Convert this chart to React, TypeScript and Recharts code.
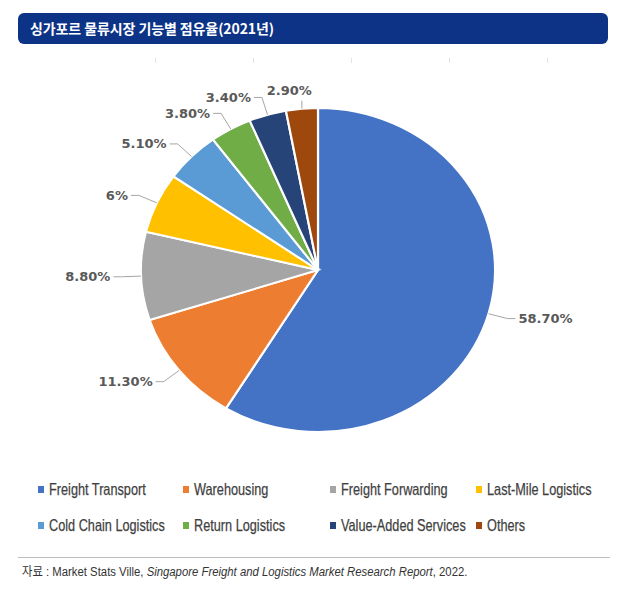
import React from "react";
import { Legend, Pie, PieChart, Sector } from "recharts";

const categories = [
  "Freight Transport",
  "Warehousing",
  "Freight Forwarding",
  "Last-Mile Logistics",
  "Cold Chain Logistics",
  "Return Logistics",
  "Value-Added Services",
  "Others",
];
const shares = [58.7, 11.3, 8.8, 6, 5.1, 3.8, 3.4, 2.9];
const shareLabels = ["58.70%", "11.30%", "8.80%", "6%", "5.10%", "3.80%", "3.40%", "2.90%"];

const COLORS = [
  "#4472c4",
  "#ed7d31",
  "#a5a5a5",
  "#ffc000",
  "#5b9bd5",
  "#70ad47",
  "#264478",
  "#9e480e",
];

const data = categories.map((name, i) => ({
  name,
  value: shares[i],
  fill: COLORS[i],
}));

// the source pie is a bit wider than it is tall
const SX = 1.093;
const RADIAN = Math.PI / 180;

function StretchedSector(props: any) {
  const { cx, cy } = props;
  return (
    <g transform={`translate(${cx} ${cy}) scale(${SX} 1) translate(${-cx} ${-cy})`}>
      <Sector {...props} stroke="#fff" strokeWidth={2} />
    </g>
  );
}

const labelText = {
  fill: "#595959",
  fontFamily: "DejaVu Sans",
  fontWeight: "bold",
  fontSize: 13,
} as const;

function renderLabel(props: any) {
  const { cx, cy, midAngle, outerRadius, index } = props;
  const cos = Math.cos(-midAngle * RADIAN);
  const sin = Math.sin(-midAngle * RADIAN);
  const sx = cx + outerRadius * cos * SX;
  const sy = cy + outerRadius * sin;

  // labels right at the top sit above the slice on a short vertical leader
  if (Math.abs(cos) < 0.15 && sin < 0) {
    const ty = sy - 8;
    return (
      <g>
        <path d={`M${sx},${sy}L${sx},${ty}`} stroke="#a6a6a6" fill="none" />
        <text x={sx + 10} y={ty - 6} textAnchor="end" {...labelText}>
          {shareLabels[index]}
        </text>
      </g>
    );
  }

  const mx = cx + (outerRadius + 18) * cos * SX;
  const my = cy + (outerRadius + 18) * sin;
  const right = cos >= 0;
  const ex = mx + (right ? 8 : -8);
  return (
    <g>
      <path
        d={`M${sx},${sy}L${mx},${my}L${ex},${my}`}
        stroke="#a6a6a6"
        strokeWidth={1}
        fill="none"
      />
      <text
        x={ex + (right ? 3 : -3)}
        y={my}
        textAnchor={right ? "start" : "end"}
        dominantBaseline="central"
        {...labelText}
      >
        {shareLabels[index]}
      </text>
    </g>
  );
}

function LegendGrid({ payload }: any) {
  const items = [...(payload || [])].sort(
    (a: any, b: any) => categories.indexOf(a.value) - categories.indexOf(b.value),
  );
  return (
    <div
      style={{
        display: "grid",
        gridTemplateColumns: "145px 147px 146px 130px",
        fontFamily: "'Liberation Sans', sans-serif",
        fontSize: 16.5,
        color: "#3f3f3f",
      }}
    >
      {items.map((entry: any) => (
        <div
          key={entry.value}
          style={{ display: "flex", alignItems: "center", height: 36, whiteSpace: "nowrap" }}
        >
          <span
            style={{
              width: 6,
              height: 7,
              background: entry.color,
              marginRight: 2,
              flex: "none",
            }}
          />
          <span
            style={{
              display: "inline-block",
              transform: "scaleX(0.77)",
              transformOrigin: "left center",
              marginLeft: 3,
              WebkitTextStroke: "0.25px #3f3f3f",
            }}
          >
            {entry.value}
          </span>
        </div>
      ))}
    </div>
  );
}

const topTicks = [155, 253, 351, 449, 547];

export default function App() {
  return (
    <div
      style={{
        position: "absolute",
        left: 0,
        top: 0,
        width: 627,
        height: 592,
        background: "#fff",
        overflow: "hidden",
      }}
    >
      <div
        style={{
          position: "absolute",
          left: 18,
          top: 13,
          width: 590,
          height: 31,
          borderRadius: 6,
          background: "#0d3387",
          color: "#fff",
          fontFamily: "'Noto Sans CJK KR', sans-serif",
          fontWeight: 700,
          fontSize: 14,
          letterSpacing: -0.1,
          lineHeight: "31px",
          paddingLeft: 12,
          boxSizing: "border-box",
        }}
      >
        싱가포르 물류시장 기능별 점유율(2021년)
      </div>
      {topTicks.map((x) => (
        <div
          key={x}
          style={{
            position: "absolute",
            left: x,
            top: 58,
            width: 1,
            height: 5,
            background: "#e3e3e3",
          }}
        />
      ))}
      <div style={{ position: "absolute", left: 0, top: 0 }}>
        <PieChart width={627} height={592} margin={{ top: 0, right: 0, bottom: 0, left: 0 }}>
          <Pie
            data={data}
            dataKey="value"
            nameKey="name"
            cx={318}
            cy={270}
            outerRadius={162}
            startAngle={90}
            endAngle={-270}
            shape={StretchedSector}
            label={renderLabel}
            labelLine={false}
            isAnimationActive={false}
          />
          <Legend
            content={<LegendGrid />}
            wrapperStyle={{ position: "absolute", left: 38, top: 471, width: 580 }}
          />
        </PieChart>
      </div>
      <div
        style={{
          position: "absolute",
          left: 18,
          top: 557,
          width: 592,
          height: 1,
          background: "#bcbcbc",
        }}
      />
      <div
        style={{
          position: "absolute",
          left: 22,
          top: 563,
          fontFamily: "'Liberation Sans', 'Noto Sans CJK KR', sans-serif",
          fontSize: 12.5,
          color: "#333",
          whiteSpace: "nowrap",
          lineHeight: "18px",
          transform: "scaleX(0.907)",
          transformOrigin: "left center",
        }}
      >
        자료 : Market Stats Ville, <i>Singapore Freight and Logistics Market Research Report</i>, 2022.
      </div>
    </div>
  );
}
